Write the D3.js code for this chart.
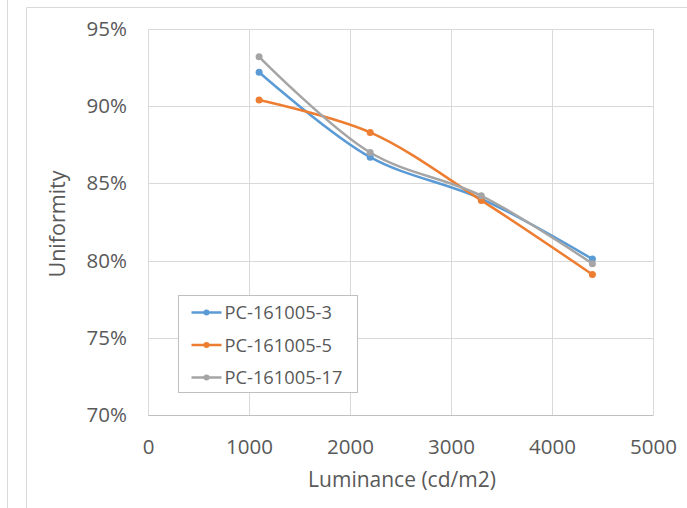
<!DOCTYPE html>
<html lang="en">
<head>
<meta charset="utf-8">
<script src="https://d3js.org/d3.v7.min.js"></script>
<style>
  body { margin: 0; background: #fff; }
  svg text { font-family: "Open Sans", sans-serif; fill: #595959; }
</style>
</head>
<body>
<script>
// values
var luminance = [1100, 2200, 3300, 4400];
var pc3  = [0.922, 0.867, 0.840, 0.801];
var pc5  = [0.904, 0.883, 0.839, 0.791];
var pc17 = [0.932, 0.870, 0.842, 0.798];
var seriesNames = ["PC-161005-3", "PC-161005-5", "PC-161005-17"];
var xTicks = [0, 1000, 2000, 3000, 4000, 5000];
var yTicks = [0.70, 0.75, 0.80, 0.85, 0.90, 0.95];

var colors = ["#5b9bd5", "#ed7d31", "#a5a5a5"];
var allSeries = [pc3, pc5, pc17];

var W = 687, H = 508;
var svg = d3.select("body").append("svg").attr("width", W).attr("height", H);

// outer frames
svg.append("line").attr("x1", 7.5).attr("x2", 7.5).attr("y1", 0).attr("y2", H)
  .attr("stroke", "#d9d9d9");
svg.append("path").attr("d", "M26.5," + H + "V7.5H" + W)
  .attr("fill", "none").attr("stroke", "#d9d9d9");

var x = d3.scaleLinear().domain([0, 5000]).range([148, 653]);
var y = d3.scaleLinear().domain([0.70, 0.95]).range([415, 29]);

// grid
var grid = svg.append("g");
grid.selectAll(".gy").data(yTicks).enter().append("line")
  .attr("x1", x(0)).attr("x2", x(5000))
  .attr("y1", function(d) { return Math.round(y(d)) + 0.5; })
  .attr("y2", function(d) { return Math.round(y(d)) + 0.5; })
  .attr("stroke", "#d9d9d9").attr("stroke-width", 1);
grid.selectAll(".gx").data(xTicks).enter().append("line")
  .attr("y1", y(0.95)).attr("y2", y(0.70))
  .attr("x1", function(d) { return Math.round(x(d)) + 0.5; })
  .attr("x2", function(d) { return Math.round(x(d)) + 0.5; })
  .attr("stroke", "#d9d9d9").attr("stroke-width", 1);

// axes (labels only)
var xAxis = svg.append("g").attr("transform", "translate(0," + y(0.70) + ")")
  .call(d3.axisBottom(x).tickValues(xTicks).tickSize(0).tickPadding(24).tickFormat(d3.format("d")));
xAxis.select(".domain").attr("stroke", "#bfbfbf");
xAxis.selectAll("text").attr("font-size", 20.5).attr("fill", "#595959");

var yAxis = svg.append("g").attr("transform", "translate(" + x(0) + ",0)")
  .call(d3.axisLeft(y).tickValues(yTicks).tickSize(0).tickPadding(21).tickFormat(d3.format(".0%")));
yAxis.select(".domain").remove();
yAxis.selectAll("text").attr("font-size", 20.5).attr("fill", "#595959");
svg.selectAll(".tick text").style("font-family", "'Open Sans', sans-serif");

// axis titles
svg.append("text").attr("x", 402).attr("y", 487).attr("text-anchor", "middle")
  .attr("font-size", 21).text("Luminance (cd/m2)");
svg.append("text").attr("transform", "translate(65,224) rotate(-90)")
  .attr("text-anchor", "middle").attr("font-size", 21.5).text("Uniformity");

// lines
var line = d3.line()
  .x(function(d, i) { return x(luminance[i]); })
  .y(function(d) { return y(d); })
  .curve(d3.curveCatmullRom.alpha(0.5));

allSeries.forEach(function(s, k) {
  var g = svg.append("g");
  g.append("path").datum(s).attr("d", line)
    .attr("fill", "none").attr("stroke", colors[k]).attr("stroke-width", 2.5)
    .attr("stroke-linecap", "round");
  g.selectAll("circle").data(s).enter().append("circle")
    .attr("cx", function(d, i) { return x(luminance[i]); })
    .attr("cy", function(d) { return y(d); })
    .attr("r", 3.5).attr("fill", colors[k]);
});

// legend
var lg = svg.append("g").attr("transform", "translate(178.5,295.5)");
lg.append("rect").attr("width", 179).attr("height", 97)
  .attr("fill", "#fff").attr("stroke", "#bfbfbf");
seriesNames.forEach(function(n, k) {
  var yy = 17 + k * 32.5;
  lg.append("line").attr("x1", 13).attr("x2", 43).attr("y1", yy).attr("y2", yy)
    .attr("stroke", colors[k]).attr("stroke-width", 2.5);
  lg.append("circle").attr("cx", 28).attr("cy", yy).attr("r", 3).attr("fill", colors[k]);
  lg.append("text").attr("x", 46).attr("y", yy + 6.5).attr("font-size", 18.3).text(n);
});
</script>
</body>
</html>
